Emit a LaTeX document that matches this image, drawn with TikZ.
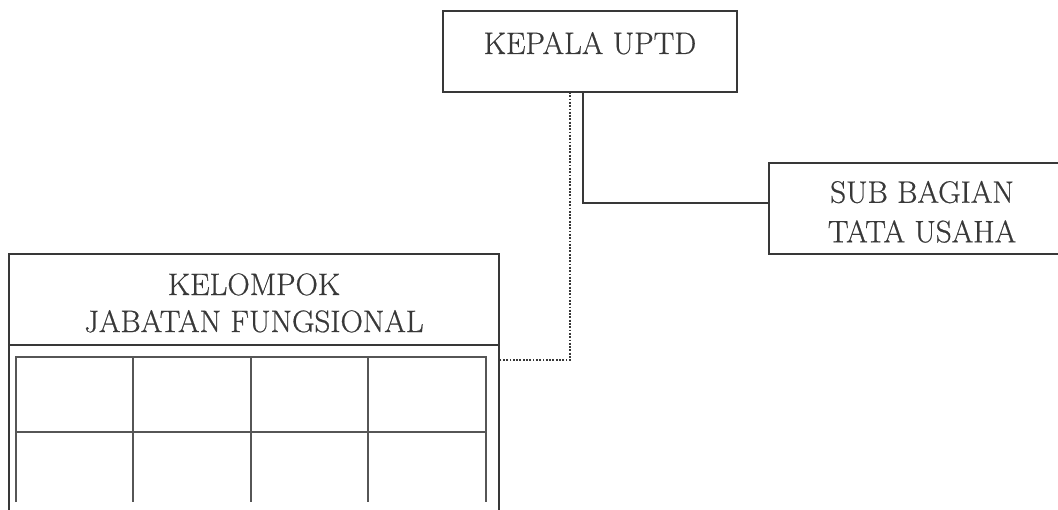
\documentclass[tikz,border=0pt]{standalone}
\usepackage{fontspec}
\setmainfont{Latin Modern Roman}[FakeBold=0.6]
\definecolor{ink}{HTML}{383838}
\newcommand{\dropline}{\rule{0pt}{28.5pt}}

\begin{document}
\begin{tikzpicture}[x=1pt, y=-1pt, ink, line width=1.6pt,
    unit/.style={draw, rectangle, outer sep=0pt, inner sep=0pt, font=\fontsize{31}{37}\selectfont},
    gridline/.style={line width=1.2pt, ink!85},
    dots/.style={line width=2.4pt, dash pattern=on 1.8pt off 1.5pt}]
    \useasboundingbox (0,0) rectangle (1058,509);

    \node (kepala) [unit, minimum width=294pt, minimum height=81pt, text depth=17pt] at (590,51.5) {KEPALA UPTD};
    \node (sub) [unit, align=center, minimum width=306pt, minimum height=91pt] at (922,208.5) {\dropline SUB BAGIAN\\[2.5pt]TATA USAHA};
    \node (kelompok) [unit, align=center, minimum width=490pt, minimum height=91pt] at (254,299.5) {\dropline KELOMPOK\\JABATAN FUNGSIONAL};

    % Body of the box, cut off at the bottom
    \draw (kelompok.south west) -- ++(0,170);
    \draw (kelompok.south east) -- ++(0,170);

    % Inner table
    \draw[gridline] (16,502) |- (486,357) -- (486,502);
    \draw[gridline] (16,432) -- (486,432);
    \foreach \gx in {133,251,368}
        \draw[gridline] (\gx,357) -- (\gx,502);

    % Create edge connections
    \coordinate (bend) at (583,203);
    \draw (kepala.south -| bend) -- (bend) -- (bend -| sub.west);
    \coordinate (fold) at (570,360);
    \draw[dots] (kepala.south -| fold) -- (fold) -- (fold -| kelompok.east);
\end{tikzpicture}
\end{document}
